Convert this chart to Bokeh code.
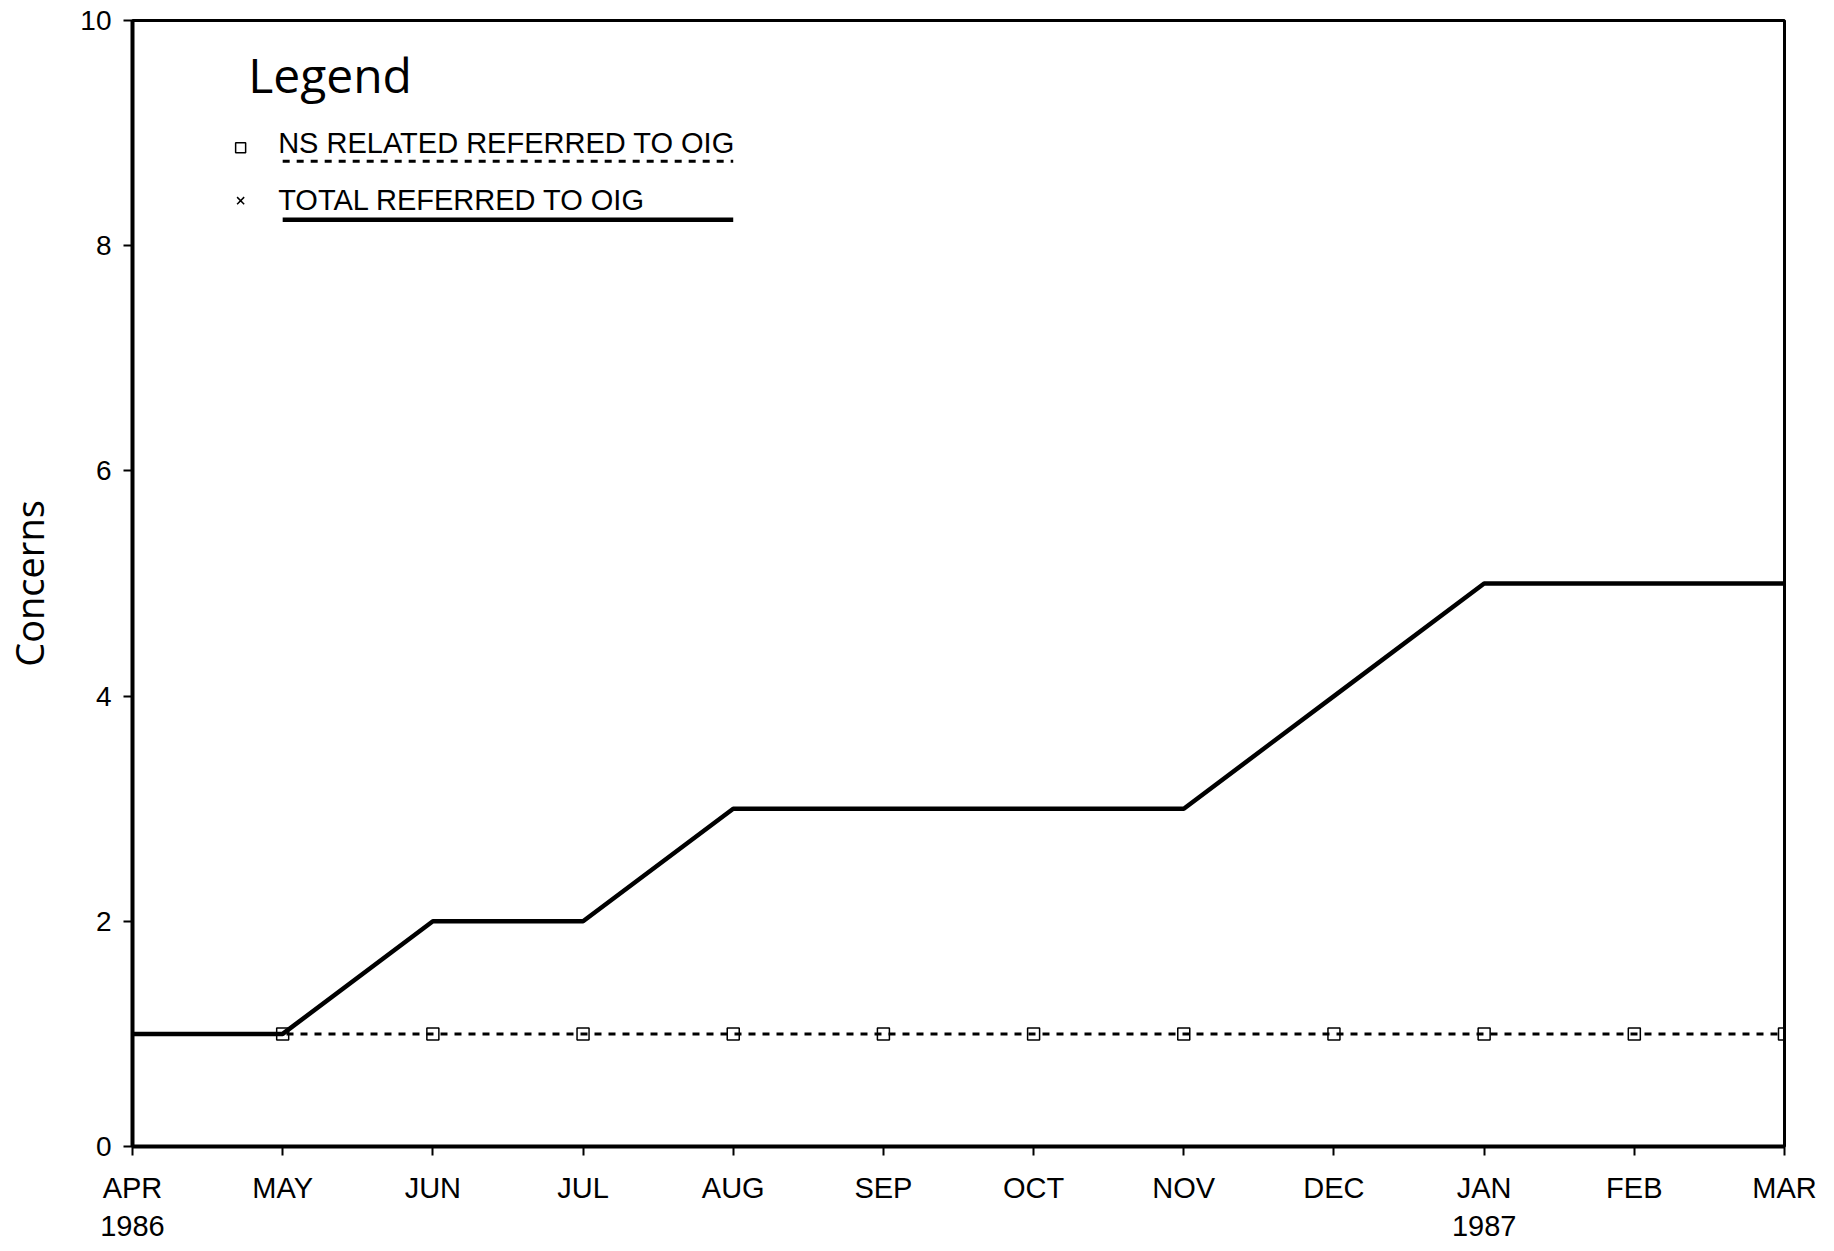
from bokeh.plotting import figure
from bokeh.models import Label, FixedTicker, Range1d
from bokeh.embed import file_html
from bokeh.resources import INLINE

# ---- data ----
months = ["APR", "MAY", "JUN", "JUL", "AUG", "SEP", "OCT", "NOV", "DEC", "JAN", "FEB", "MAR"]
years = {0: "1986", 9: "1987"}
ns_related = [1, 1, 1, 1, 1, 1, 1, 1, 1, 1, 1, 1]
total_referred = [1, 1, 2, 2, 3, 3, 3, 3, 4, 5, 5, 5]
y_ticks = [0, 2, 4, 6, 8, 10]
legend_title = "Legend"
ns_label = "NS RELATED REFERRED TO OIG"
total_label = "TOTAL REFERRED TO OIG"
y_label = "Concerns"

x = list(range(len(months)))

TICK_FONT = "Liberation Sans"
TITLE_FONT = "Open Sans"

p = figure(width=1818, height=1244, output_backend="svg", toolbar_location=None,
           x_range=Range1d(0, len(months) - 1), y_range=Range1d(0, 10),
           min_border_left=130, min_border_right=34, min_border_top=20, min_border_bottom=93)
p.background_fill_color = "white"
p.border_fill_color = "white"
p.outline_line_color = "black"
p.outline_line_width = 3
p.grid.visible = False

# axes
p.xaxis.ticker = FixedTicker(ticks=x)
p.xaxis.major_label_overrides = {i: (m + ("\n" + years[i] if i in years else "")) for i, m in enumerate(months)}
p.yaxis.ticker = FixedTicker(ticks=y_ticks)
for ax in (p.xaxis[0], p.yaxis[0]):
    ax.axis_line_width = 4
    ax.axis_line_color = "black"
    ax.major_tick_in = 0
    ax.major_tick_out = 9
    ax.major_tick_line_width = 2
    ax.minor_tick_line_color = None
    ax.major_label_text_color = "black"
    ax.major_label_text_font = TICK_FONT
p.xaxis.major_label_text_font_size = "29px"
p.xaxis.major_label_standoff = 16
p.yaxis.major_label_text_font_size = "28px"
p.yaxis.major_label_standoff = 12
p.yaxis.axis_label = y_label
p.yaxis.axis_label_text_font = TITLE_FONT
p.yaxis.axis_label_text_font_style = "normal"
p.yaxis.axis_label_text_font_size = "38px"
p.yaxis.axis_label_text_color = "black"
p.yaxis.axis_label_standoff = 22

# series
p.line(x, ns_related, line_color="black", line_width=3, line_dash="7 7")
p.scatter(x[1:], ns_related[1:], marker="square", size=12, fill_color=None,
          line_color="black", line_width=1.5)
p.line(x, total_referred, line_color="black", line_width=4.5)

# ---- hand-made legend (text with sample line underneath) ----
lx_marker = 0.72
lx_text = 0.97
lx_line0 = 1.0
lx_end = 4.0
p.add_layout(Label(x=0.77, y=9.52, text=legend_title, text_font=TITLE_FONT,
                   text_font_size="48px", text_color="black", text_baseline="alphabetic"))
rows = [(8.91, 8.75, 8.87, ns_label, "7 7", 3, "square"),
        (8.41, 8.23, 8.40, total_label, "solid", 4.5, "x")]
for base_y, line_y, mk_y, txt, dash, lw, mk in rows:
    p.add_layout(Label(x=lx_text, y=base_y, text=txt, text_font=TICK_FONT,
                       text_font_size="29px", text_color="black", text_baseline="alphabetic"))
    p.line([lx_line0, lx_end], [line_y, line_y], line_color="black", line_width=lw, line_dash=dash)
    p.scatter([lx_marker], [mk_y], marker=mk, size=10, fill_color=None,
              line_color="black", line_width=1.5)

open("out.html", "w").write(file_html(p, INLINE))
